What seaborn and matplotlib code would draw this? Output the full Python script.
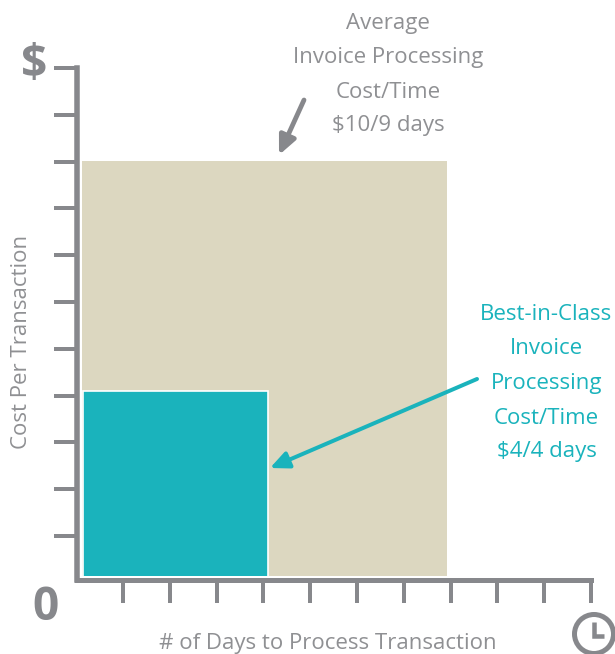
import matplotlib
matplotlib.use("Agg")
import matplotlib.pyplot as plt
from matplotlib.patches import Ellipse, FancyArrowPatch
from matplotlib.lines import Line2D
import seaborn as sns

W, H = 615, 654
GRAY = "#87888c"
TXT = "#8f9093"
TAN = "#dcd7c0"
TEAL = "#1ab3bc"

# Values (in tick units of the axes)
series = ["Average", "Best-in-Class"]
days = [7.92, 4.10]
cost = [9.01, 4.10]
colors = [TAN, TEAL]
edges = ["none", "white"]
x_ticks = list(range(1, 12))
y_ticks = list(range(1, 12))
avg_label = ["Average", "Invoice Processing", "Cost/Time", "$10/9 days"]
best_label = ["Best-in-Class", "Invoice", "Processing", "Cost/Time", "$4/4 days"]

sns.set_theme(style="white")
plt.rcParams["font.family"] = ["Open Sans", "DejaVu Sans"]

fig = plt.figure(figsize=(W / 100, H / 100), dpi=100)
# axes frame is the plot area just inside the axis lines
L, R, T, B = 82, 591, 68, 576
ax = fig.add_axes([L / W, 1 - B / H, (R - L) / W, (B - T) / H])

for d, c, col, e, start in zip(days, cost, colors, edges, [0, 0.15]):
    sns.histplot(x=[d / 2], weights=[c], bins=[start, d], color=col, alpha=1,
                 edgecolor=e, linewidth=1.2, ax=ax, zorder=2)

ax.set_xlim(0.124, 11)
ax.set_ylim(0.145, 11)
ax.set_xlabel("")
ax.set_ylabel("")
ax.set_xticks(x_ticks)
ax.set_yticks(y_ticks)
ax.set_xticklabels([])
ax.set_yticklabels([])
ax.grid(False)
ax.patch.set_alpha(0)

px = 72 / 100
for s in ["top", "right"]:
    ax.spines[s].set_visible(False)
ax.spines["left"].set_position(("outward", 5 * px))
ax.spines["bottom"].set_position(("outward", 4 * px))
ax.spines["left"].set_bounds(0.06, 11)
ax.spines["bottom"].set_bounds(0.02, 11)
ax.spines["left"].set_color(GRAY)
ax.spines["bottom"].set_color(GRAY)
ax.spines["left"].set_linewidth(5.5 * px)
ax.spines["bottom"].set_linewidth(5 * px)
ax.spines["left"].set_capstyle("projecting")
ax.spines["bottom"].set_capstyle("projecting")
ax.tick_params(axis="both", which="major", length=23 * px, width=4 * px, color=GRAY,
               direction="out", left=True, bottom=True)


def P(x, y):
    return (x / W, 1 - y / H)


def label(x, y, s, **kw):
    fx, fy = P(x, y)
    fig.text(fx, fy, s, ha="center", va="center", **kw)


for s, y in zip(avg_label, [23, 57, 92, 125]):
    label(388, y, s, color=TXT, fontsize=16)
for s, y in zip(best_label, [315, 349, 384, 418, 452]):
    label(546.5, y, s, color=TEAL, fontsize=16)

label(328, 643.5, "# of Days to Process Transaction", color=TXT, fontsize=16)
label(22, 342, "Cost Per Transaction", color=TXT, fontsize=16, rotation=90)
label(34, 65, "$", color=GRAY, fontsize=33, fontweight="bold")
label(45, 608, "0", color=GRAY, fontsize=33, fontweight="bold")

# Arrows
for (x0, y0, x1, y1, c, lw) in [(304, 100, 279, 155, GRAY, 4.8 * px),
                                (477, 379, 270, 468, TEAL, 4.0 * px)]:
    fig.add_artist(FancyArrowPatch(
        P(x0, y0), P(x1, y1), transform=fig.transFigure,
        arrowstyle="-|>,head_length=0.7,head_width=0.32",
        mutation_scale=16, color=c, lw=lw, shrinkA=0, shrinkB=0))

# Clock icon
cx, cy = P(594, 634)
fig.add_artist(Ellipse((cx, cy), 39 / W, 39 / H, transform=fig.transFigure,
                       fc="white", ec=GRAY, lw=5 * px, clip_on=False))
hx0, hy0 = P(593.5, 622)
hx1, hy1 = P(593.5, 636)
hx2, hy2 = P(604, 636)
fig.add_artist(Line2D([hx0, hx1, hx2], [hy0, hy1, hy2], transform=fig.transFigure,
                      color=GRAY, lw=4.5 * px, solid_joinstyle="miter", solid_capstyle="butt"))

fig.savefig("out.png", dpi=100)
